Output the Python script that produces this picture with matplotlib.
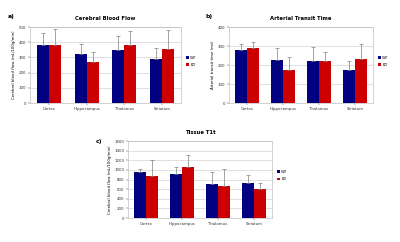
import numpy as np
import matplotlib
matplotlib.use('Agg')
import matplotlib.pyplot as plt

regions = ['Cortex', 'Hippocampus', 'Thalamus', 'Striatum']

# a) cerebral blood flow
cbf_wt = [385, 320, 352, 290]
cbf_wt_err = [75, 68, 88, 72]
cbf_ko = [385, 268, 385, 353]
cbf_ko_err = [100, 67, 88, 127]

# b) arterial transit time
att_wt = [278, 226, 222, 174]
att_wt_err = [34, 66, 74, 48]
att_ko = [292, 175, 219, 233]
att_ko_err = [30, 67, 49, 77]

# c) tissue T1t
t1_wt = [950, 915, 715, 720]
t1_wt_err = [65, 155, 245, 170]
t1_ko = [875, 1060, 665, 605]
t1_ko_err = [330, 250, 350, 115]

WT_COL = '#000080'
KO_COL = '#cc0000'


def panel(ax, wt, wt_err, ko, ko_err, ymax, ystep, title, ylabel):
    x = np.arange(len(regions))
    w = 0.32
    ax.bar(x - w/2, wt, w, color=WT_COL, zorder=2, label='WT')
    ax.bar(x + w/2, ko, w, color=KO_COL, zorder=2, label='KO')
    ekw = dict(ecolor='#808080', elinewidth=0.5, capsize=1.2, capthick=0.5, fmt='none', zorder=3)
    ax.errorbar(x - w/2, wt, yerr=[np.zeros(4), wt_err], **ekw)
    ax.errorbar(x + w/2, ko, yerr=[np.zeros(4), ko_err], **ekw)
    ax.set_xlim(-0.5, 3.5)
    ax.set_ylim(0, ymax)
    ax.set_yticks(np.arange(0, ymax + 1, ystep))
    ax.set_xticks(x)
    ax.set_xticklabels(regions)
    ax.tick_params(labelsize=2.8, length=1.5, width=0.3, pad=1, colors='#333333')
    ax.yaxis.grid(True, color='#c8c8c8', linewidth=0.4, zorder=0)
    for s in ax.spines.values():
        s.set_color('#b0b0b0')
        s.set_linewidth(0.4)
    ax.set_title(title, fontsize=3.8, fontweight='bold', pad=5)
    ax.set_ylabel(ylabel, fontsize=2.8, labelpad=2)
    ax.legend(loc='center left', bbox_to_anchor=(1.01, 0.55), fontsize=2.8, frameon=False,
              handlelength=0.7, handleheight=0.7, handletextpad=0.4, labelspacing=0.8)


fig = plt.figure(figsize=(4, 2.42), dpi=100)
ax_a = fig.add_axes([0.075, 0.574, 0.3775, 0.314])
ax_b = fig.add_axes([0.5725, 0.574, 0.36, 0.314])
ax_c = fig.add_axes([0.32, 0.099, 0.36, 0.318])

panel(ax_a, cbf_wt, cbf_wt_err, cbf_ko, cbf_ko_err, 500, 100,
      'Cerebral Blood Flow', 'Cerebral blood flow (mL/100g/min)')
panel(ax_b, att_wt, att_wt_err, att_ko, att_ko_err, 400, 100,
      'Arterial Transit Time', 'Arterial transit time (ms)')
panel(ax_c, t1_wt, t1_wt_err, t1_ko, t1_ko_err, 1600, 200,
      'Tissue T1t', 'Cerebral blood flow (mL/100g/min)')

fig.text(0.02, 0.925, 'a)', fontsize=4.5, fontweight='bold')
fig.text(0.515, 0.925, 'b)', fontsize=4.5, fontweight='bold')
fig.text(0.24, 0.41, 'c)', fontsize=4.5, fontweight='bold')

fig.savefig('out.png', dpi=100)
